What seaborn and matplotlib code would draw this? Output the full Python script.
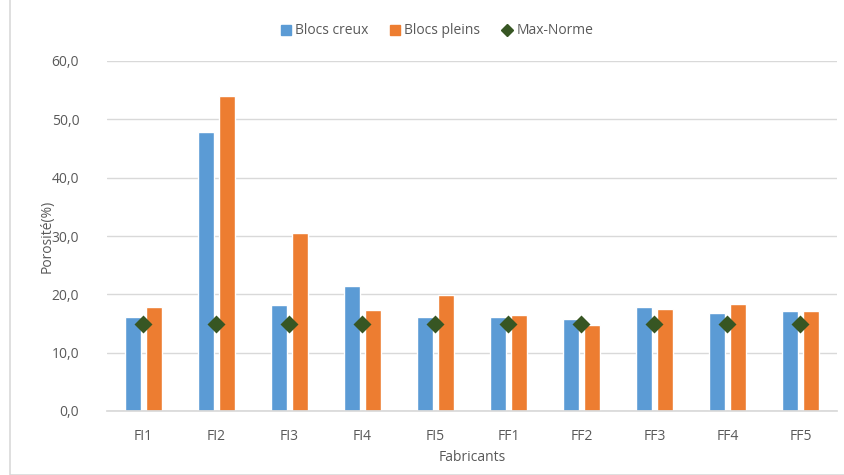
import matplotlib
matplotlib.use("Agg")
import matplotlib.pyplot as plt
from matplotlib.lines import Line2D
from matplotlib.patches import Patch, Rectangle
from matplotlib.ticker import FuncFormatter
import pandas as pd
import seaborn as sns

fabricants = ["FI1", "FI2", "FI3", "FI4", "FI5", "FF1", "FF2", "FF3", "FF4", "FF5"]
blocs_creux = [16.2, 47.9, 18.2, 21.5, 16.2, 16.2, 15.8, 17.9, 16.8, 17.1]
blocs_pleins = [17.9, 54.0, 30.5, 17.4, 19.9, 16.4, 14.8, 17.5, 18.3, 17.2]
max_norme = [15.0] * len(fabricants)

series = ["Blocs creux", "Blocs pleins"]
colors = ["#5B9BD5", "#ED7D31"]
text_col = "#595959"

df = pd.DataFrame({
    "fab": fabricants * 2,
    "val": blocs_creux + blocs_pleins,
    "serie": [series[0]] * len(fabricants) + [series[1]] * len(fabricants),
})
norme = pd.DataFrame({"fab": fabricants, "val": max_norme})

sns.set_theme(style="white")
plt.rcParams["font.family"] = ["Open Sans", "DejaVu Sans"]

fig = plt.figure(figsize=(8.45, 4.75), dpi=100)
ax = fig.add_axes([107 / 845, 1 - 411 / 475, 730 / 845, 350 / 475])

sns.barplot(data=df, x="fab", y="val", hue="serie", order=fabricants,
            palette=colors, width=0.576, gap=0.22, saturation=1, ax=ax,
            legend=False)
sns.pointplot(data=norme, x="fab", y="val", order=fabricants, color="#375623",
              markers="D", linestyle="none", markersize=7, ax=ax, zorder=5)

ax.set_ylim(0, 60)
ax.set_xlim(-0.5, len(fabricants) - 0.5)
ax.set_yticks(range(0, 61, 10))
ax.yaxis.set_major_formatter(FuncFormatter(lambda v, p: f"{v:.1f}".replace(".", ",")))
ax.grid(axis="y", color="#D9D9D9", linewidth=1)
ax.set_axisbelow(True)
for s in ["top", "right", "left"]:
    ax.spines[s].set_visible(False)
ax.spines["bottom"].set_color("#D9D9D9")
ax.tick_params(axis="both", length=0, colors=text_col, labelsize=10)
ax.tick_params(axis="x", pad=13)
ax.tick_params(axis="y", pad=20)
ax.set_xlabel("Fabricants", color=text_col, fontsize=10, labelpad=4)
ax.set_ylabel("Porosité(%)", color=text_col, fontsize=10, labelpad=-2)

handles = [Patch(color=colors[0], label=series[0]),
           Patch(color=colors[1], label=series[1]),
           Line2D([], [], marker="D", color="#375623", linestyle="none",
                  markersize=6, label="Max-Norme")]
fig.legend(handles=handles, loc="center", bbox_to_anchor=(437 / 845, 1 - 31 / 475),
           ncol=3, frameon=False, fontsize=10, labelcolor=text_col,
           handlelength=0.7, handleheight=0.7, handletextpad=0.3, columnspacing=1.6)

fig.patches.append(Rectangle((10 / 845, 0), 1, 1.2, transform=fig.transFigure,
                             fill=False, edgecolor="#D9D9D9", linewidth=1.2))

fig.savefig("out.png", dpi=100)
